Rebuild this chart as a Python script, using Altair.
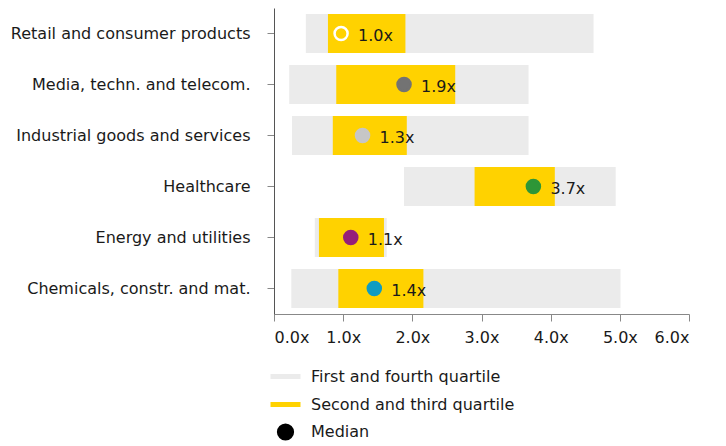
import altair as alt
import pandas as pd

categories = ["Retail and consumer products", "Media, techn. and telecom.",
              "Industrial goods and services", "Healthcare",
              "Energy and utilities", "Chemicals, constr. and mat."]
q_min = [0.46, 0.22, 0.26, 1.88, 0.59, 0.25]
q_max = [4.62, 3.68, 3.68, 4.94, 1.63, 5.01]
iq_lo = [0.78, 0.90, 0.85, 2.90, 0.65, 0.93]
iq_hi = [1.90, 2.62, 1.92, 4.06, 1.59, 2.16]
median = [0.97, 1.88, 1.28, 3.75, 1.11, 1.45]
median_labels = ["1.0x", "1.9x", "1.3x", "3.7x", "1.1x", "1.4x"]
median_fill = ["transparent", "#737373", "#c6c6c6", "#2e9637", "#951f7a", "#0e9cc2"]
median_stroke = ["#ffffff", "#737373", "#c6c6c6", "#2e9637", "#951f7a", "#0e9cc2"]
x_ticks = [0, 1, 2, 3, 4, 5, 6]
legend_items = ["First and fourth quartile", "Second and third quartile", "Median"]
legend_colors = ["#ebebeb", "#ffd200", "#000000"]
legend_shapes = ["stroke", "stroke", "circle"]
legend_sizes = [900, 900, 150]

FONT = "DejaVu Sans"
FS = 16

df = pd.DataFrame({
    "cat": categories, "qmin": q_min, "qmax": q_max, "lo": iq_lo, "hi": iq_hi,
    "med": median, "label": median_labels, "fill": median_fill, "stroke": median_stroke,
})
leg = pd.DataFrame({"item": legend_items})

y = alt.Y("cat:N", sort=categories, title=None,
          scale=alt.Scale(paddingInner=0.24, paddingOuter=0.12),
          axis=alt.Axis(labelFont=FONT, labelFontSize=FS, labelColor="#1a1a1a",
                        labelPadding=17, tickSize=7, tickColor="#888888", labelLimit=0,
                        domainColor="#555555", minExtent=266, maxExtent=266))
x_scale = alt.Scale(domain=[0, 6], nice=False)
x_axis = alt.Axis(values=x_ticks, labelExpr="format(datum.value, '.1f') + 'x'",
                  labelFont=FONT, labelFontSize=FS, labelColor="#1a1a1a",
                  tickSize=7, tickColor="#888888", domainColor="#888888",
                  labelPadding=8, grid=False, title=None)

base = alt.Chart(df)
outer = base.mark_bar(color="#ebebeb").encode(
    x=alt.X("qmin:Q", scale=x_scale, axis=x_axis), x2="qmax:Q", y=y)
inner = base.mark_bar(color="#ffd200").encode(x="lo:Q", x2="hi:Q", y=y)
dots = base.mark_point(filled=False, size=170, strokeWidth=2.5, opacity=1).encode(
    x="med:Q", y=y,
    fill=alt.Fill("fill:N", scale=None),
    stroke=alt.Stroke("stroke:N", scale=None))
texts = base.mark_text(align="left", baseline="middle", dx=17, dy=2,
                       font=FONT, fontSize=FS, color="#1a1a1a").encode(
    x="med:Q", y=y, text="label:N")

sc_c = alt.Scale(domain=legend_items, range=legend_colors)
sc_s = alt.Scale(domain=legend_items, range=legend_shapes)
sc_z = alt.Scale(type="ordinal", domain=legend_items, range=legend_sizes)
lg = alt.Legend(title=None, orient="none", legendX=-6, legendY=351, direction="vertical",
                labelFont=FONT, labelFontSize=FS, labelColor="#1a1a1a", labelLimit=0,
                symbolStrokeWidth=5, symbolOpacity=1, rowPadding=0, labelOffset=8)
legend_layer = alt.Chart(leg).mark_point(filled=False, opacity=0).encode(
    x=alt.value(100), y=alt.value(100),
    color=alt.Color("item:N", scale=sc_c, legend=lg, sort=legend_items),
    fill=alt.Fill("item:N", scale=sc_c, legend=lg, sort=legend_items),
    shape=alt.Shape("item:N", scale=sc_s, legend=lg, sort=legend_items),
    size=alt.Size("item:N", scale=sc_z, legend=lg, sort=legend_items),
)

chart = alt.layer(outer, inner, dots, texts, legend_layer).properties(
    width=415, height=306,
    padding={"left": 0, "top": 0, "right": 5, "bottom": 0},
).configure_view(stroke=None)

chart.save("out.html", embed_options={"renderer": "svg", "actions": False})
